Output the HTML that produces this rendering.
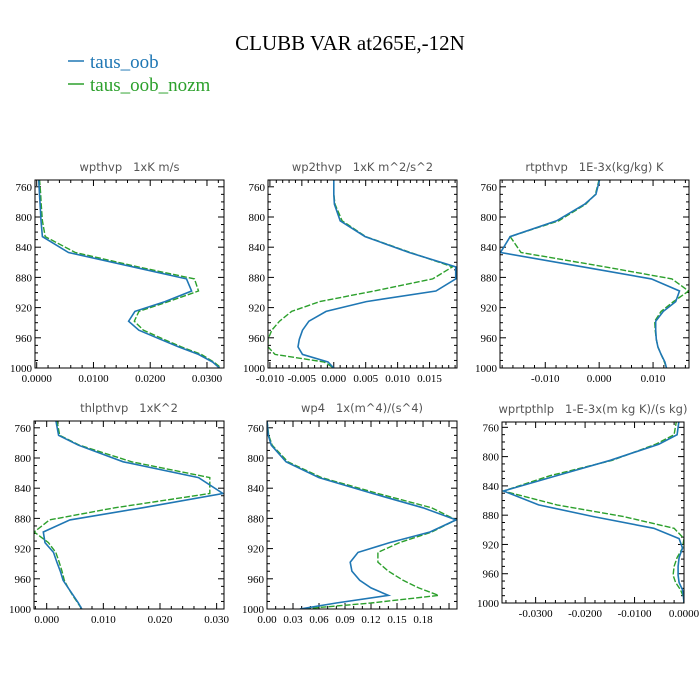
<!DOCTYPE html>
<html><head><meta charset="utf-8"><style>
body{margin:0;background:#fff;}
svg{display:block;}
.tl{font-family:"Liberation Serif",serif;font-size:11px;fill:#000;}
.pt{font-family:"DejaVu Sans","Liberation Sans",sans-serif;font-size:11.5px;fill:#555;white-space:pre;}
</style></head><body>
<svg id="chart" width="700" height="700" viewBox="0 0 700 700" xmlns="http://www.w3.org/2000/svg">
<rect width="700" height="700" fill="#fff"/>
<text x="350" y="50" text-anchor="middle" style="font-family:'Liberation Serif',serif;font-size:21px">CLUBB VAR at265E,-12N</text>
<g>
<line x1="68" y1="61" x2="84" y2="61" stroke="#1f77b4" stroke-width="1.5"/>
<text x="90" y="68" style="font-family:'Liberation Serif',serif;font-size:19px;fill:#1f77b4">taus_oob</text>
<line x1="68" y1="84" x2="84" y2="84" stroke="#2ca02c" stroke-width="1.5"/>
<text x="90" y="91" style="font-family:'Liberation Serif',serif;font-size:19px;fill:#2ca02c">taus_oob_nozm</text>
</g>
<g id="panels"></g>
</svg>
<script>
const levels=[750,770,783,805,826,847,866,882,898,912,925,938,950,962,972,982,992,1000];
const p1Blue=[.00035,.0005,.0006,.00075,.001,.0056,.0169,.0264,.0273,.0226,.0173,.0162,.018,.0218,.0250,.0285,.0310,.0322];
const p1Green=[.0005,.0007,.0008,.001,.0015,.0068,.0178,.0278,.0285,.0232,.018,.0172,.0188,.0224,.0255,.0290,.0312,.0325];
const p2Blue=[0,0,.0001,.001,.0049,.0118,.0191,.0191,.016,.0051,-.0012,-.0039,-.0049,-.0054,-.0056,-.0049,-.0009,0];
const p2Green=[0,0,.0002,.0013,.005,.012,.0186,.0155,.0063,-.0022,-.0066,-.0085,-.0097,-.0103,-.0103,-.0092,-.0015,0];
const p3Blue=[.0001,-.0006,-.0027,-.0079,-.0165,-.0183,-.0031,.0097,.0149,.0142,.0119,.0105,.0105,.0106,.0109,.0115,.0122,.0125];
const p3Green=[0,-.0007,-.0025,-.0075,-.0165,-.0145,.001,.0135,.0166,.0138,.0115,.0103,.0104,.0106,.0109,.0115,.0121,.0125];
const p4Blue=[.0016,.0021,.0056,.0135,.0268,.0311,.0169,.0041,-.0006,-.0003,.0012,.0018,.0024,.0029,.0038,.0047,.0056,.0062];
const p4Green=[.0018,.0023,.0058,.015,.0288,.0288,.012,.0005,-.0022,.0003,.0016,.0022,.0027,.0031,.0038,.0046,.0055,.0062];
const p5Blue=[0,.0015,.005,.022,.06,.122,.18,.218,.188,.1415,.105,.096,.098,.107,.12,.14,.08,.038];
const p5Green=[0,.002,.006,.024,.063,.128,.19,.218,.19,.153,.128,.128,.14,.157,.175,.198,.12,.04];
const p6Blue=[-.001,-.0014,-.0051,-.0149,-.0257,-.0365,-.0294,-.0183,-.0061,-.001,-.0003,-.001,-.0012,-.0012,-.001,-.0003,-.0001,0];
const p6Green=[-.0015,-.002,-.0057,-.0145,-.027,-.0365,-.0257,-.0122,-.002,0,-.0003,-.0014,-.002,-.0022,-.0017,-.0007,-.0001,0];
const yTicks=[760,800,840,880,920,960,1000];
const p1XTicks=[0,.01,.02,.03]; const p1XLabels=["0.0000","0.0100","0.0200","0.0300"];
const p2XTicks=[-.01,-.005,0,.005,.01,.015]; const p2XLabels=["-0.010","-0.005","0.000","0.005","0.010","0.015"];
const p3XTicks=[-.01,0,.01]; const p3XLabels=["-0.010","0.000","0.010"];
const p4XTicks=[0,.01,.02,.03]; const p4XLabels=["0.000","0.010","0.020","0.030"];
const p5XTicks=[0,.03,.06,.09,.12,.15,.18]; const p5XLabels=["0.00","0.03","0.06","0.09","0.12","0.15","0.18"];
const p6XTicks=[-.03,-.02,-.01,0]; const p6XLabels=["-0.0300","-0.0200","-0.0100","0.0000"];

const NS="http://www.w3.org/2000/svg";
const root=document.getElementById('panels');
function mk(tag,attrs,parent){const e=document.createElementNS(NS,tag);for(const k in attrs)e.setAttribute(k,attrs[k]);parent.appendChild(e);return e;}

const panels=[
 {name:"wpthvp",title:"wpthvp   1xK m/s",box:[35,180,224,368],x:[-.0003,.0330],p:[751,1000],xt:p1XTicks,xl:p1XLabels,minor:5,b:p1Blue,g:p1Green},
 {name:"wp2thvp",title:"wp2thvp   1xK m^2/s^2",box:[268,180,457,368],x:[-.0103,.0193],p:[751,1000],xt:p2XTicks,xl:p2XLabels,minor:5,b:p2Blue,g:p2Green},
 {name:"rtpthvp",title:"rtpthvp   1E-3x(kg/kg) K",box:[500,180,689,368],x:[-.0184,.01667],p:[751,1000],xt:p3XTicks,xl:p3XLabels,minor:5,b:p3Blue,g:p3Green},
 {name:"thlpthvp",title:"thlpthvp   1xK^2",box:[34,421,224,609],x:[-.00224,.0313],p:[751,1000],xt:p4XTicks,xl:p4XLabels,minor:5,b:p4Blue,g:p4Green},
 {name:"wp4",title:"wp4   1x(m^4)/(s^4)",box:[267,421,457,609],x:[0,.2192],p:[751,1000],xt:p5XTicks,xl:p5XLabels,minor:3,b:p5Blue,g:p5Green},
 {name:"wprtpthlp",title:"wprtpthlp   1-E-3x(m kg K)/(s kg)",box:[502,422,684,603],x:[-.0368,0],p:[752.7,1000],xt:p6XTicks,xl:p6XLabels,minor:5,b:p6Blue,g:p6Green}
];

panels.forEach(P=>{
 const [L,T,R,B]=P.box;
 const sx=v=>L+(v-P.x[0])/(P.x[1]-P.x[0])*(R-L);
 const sy=p=>T+(p-P.p[0])/(P.p[1]-P.p[0])*(B-T);
 const g=mk('g',{},root);
 
 
 const t=mk('text',{x:(L+R)/2,y:T-9,'text-anchor':'middle','class':'pt','xml:space':'preserve'},g);
 
 
 t.textContent=P.title;
 const cid='clip-'+P.name;
 const cp=mk('clipPath',{id:cid},g); mk('rect',{x:L,y:T,width:R-L,height:B-T},cp);
 for(let p=760;p<=1000;p+=10){const y=sy(p);const maj=p%40===0;const len=maj?6:3;
  const a=mk('line',{x1:L,y1:y,x2:L+len,y2:y,stroke:'#000','stroke-width':1},g);
  const b=mk('line',{x1:R,y1:y,x2:R-len,y2:y,stroke:'#000','stroke-width':1},g);}
 yTicks.forEach(p=>{const tx=mk('text',{x:L-3,y:sy(p)+4,'text-anchor':'end','class':'tl'},g);
  tx.textContent=p;});
 const step=P.xt[1]-P.xt[0];const ms=step/P.minor;
 const start=Math.ceil((P.x[0]-1e-9)/ms);const end=Math.floor((P.x[1]+1e-9)/ms);
 for(let i=start;i<=end;i++){const v=i*ms;const x=sx(v);const maj=Math.abs(Math.round(v/step)*step-v)<ms/10;const len=maj?6:3;
  const a=mk('line',{x1:x,y1:B,x2:x,y2:B-len,stroke:'#000','stroke-width':1},g);
  const b=mk('line',{x1:x,y1:T,x2:x,y2:T+len,stroke:'#000','stroke-width':1},g);}
 P.xt.forEach((v,i)=>{const tx=mk('text',{x:sx(v),y:B+14,'text-anchor':'middle','class':'tl'},g);
  tx.textContent=P.xl[i];});
 const pts=arr=>arr.map((v,i)=>sx(v).toFixed(1)+','+sy(levels[i]).toFixed(1)).join(' ');
 const gl=mk('polyline',{points:pts(P.g),fill:'none',stroke:'#2ca02c','stroke-width':1.4,'stroke-dasharray':'6,2','clip-path':'url(#'+cid+')'},g);
 
 const bl=mk('polyline',{points:pts(P.b),fill:'none',stroke:'#1f77b4','stroke-width':1.6,'clip-path':'url(#'+cid+')'},g);
 
 const fr=mk('rect',{x:L,y:T,width:R-L,height:B-T,fill:'none',stroke:'#000','stroke-width':1},g);
 
});
</script>
</body></html>
